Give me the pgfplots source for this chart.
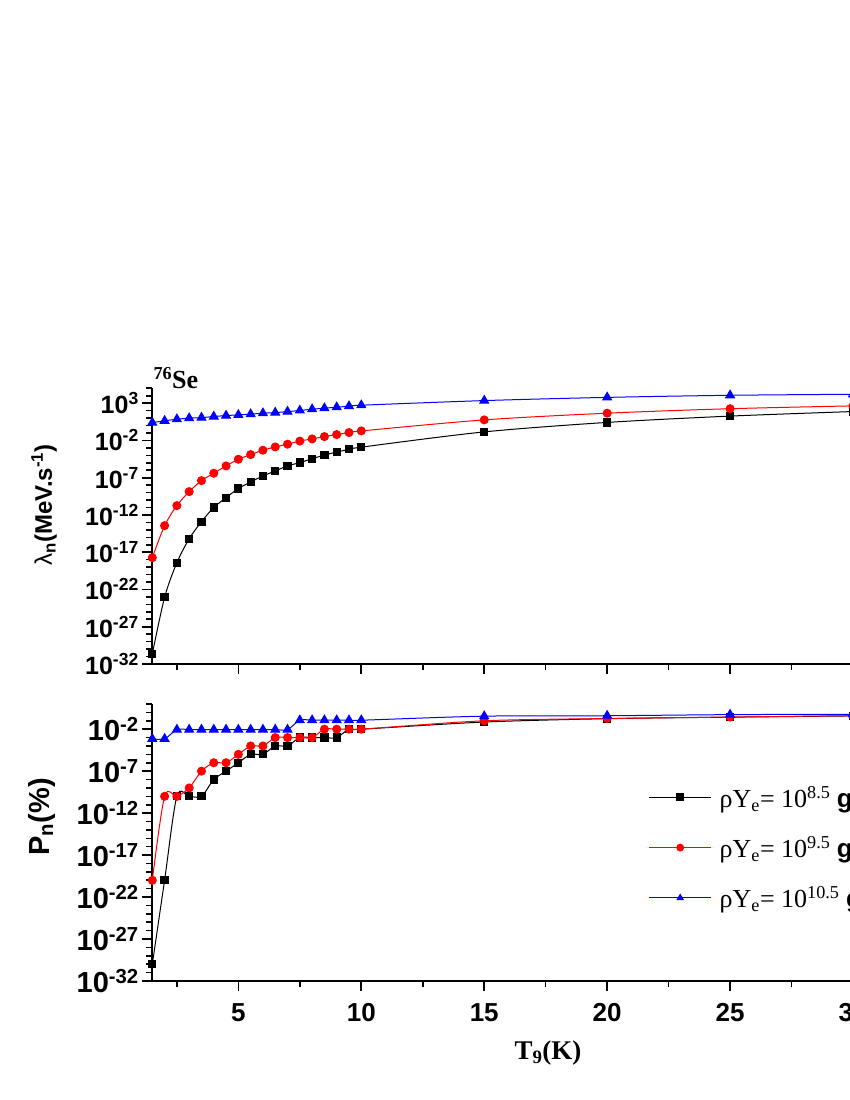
\documentclass[border=0pt]{standalone}
\usepackage{pgfplots}
\pgfplotsset{compat=1.18}
\usepackage{fontspec}
\setmainfont{Liberation Sans}
\newfontfamily\tnr{Liberation Serif}

\pgfplotsset{
  panel/.style={
    scale only axis, width=725.3pt,
    xmin=1.5, xmax=31,
    axis x line*=bottom, axis y line*=left,
    axis line style={line width=1.8pt},
    tick align=outside,
    major tick length=10pt, minor tick length=6pt,
    tick style={black, line width=1.6pt},
    xtick={5,10,...,30}, minor xtick={2.5,7.5,...,32.5},
    /pgf/number format/assume math mode=true,
    clip=false,
  },
  blk/.style={black, line width=1pt, smooth, mark=square*, mark size=3.6pt, mark options={solid}},
  rd/.style={red, line width=1pt, smooth, mark=*, mark size=4pt, mark options={solid}},
  bl/.style={blue, line width=1pt, smooth, mark=triangle*, mark size=5pt, mark options={solid}},
}

\begin{document}
\begin{tikzpicture}
\useasboundingbox (0pt,0pt) rectangle (850pt,1100pt);
\clip (0pt,0pt) rectangle (850pt,1100pt);

% upper panel: lambda_n
\begin{axis}[ymode=log, panel,
  at={(152.3pt,436pt)}, anchor=south west, height=275.7pt,
  ymin=1e-32, ymax=1e5,
  xticklabels={},
  ytick={1e-32,1e-27,1e-22,1e-17,1e-12,1e-7,1e-2,1e3},
  yticklabels={10\textsuperscript{-32},10\textsuperscript{-27},10\textsuperscript{-22},10\textsuperscript{-17},10\textsuperscript{-12},10\textsuperscript{-7},10\textsuperscript{-2},10\textsuperscript{3}},
  minor ytick={1e-31,1e-30,1e-29,1e-28,1e-26,1e-25,1e-24,1e-23,1e-21,1e-20,1e-19,1e-18,1e-16,1e-15,1e-14,1e-13,1e-11,1e-10,1e-9,1e-8,1e-6,1e-5,1e-4,1e-3,1e-1,1,10,100,1e4,1e5},
  yticklabel style={font=\bfseries\fontsize{25}{25}\selectfont},
]
\addplot[blk] coordinates {
 (1.5,2.19e-31) (2,8.9e-24) (2.5,3.98e-19) (3,6.3e-16) (3.5,1.26e-13) (4,1.0e-11)
 (4.5,2.1e-10) (5,3.5e-9) (5.5,2.7e-8) (6,1.7e-7) (6.5,8.1e-7) (7,3.8e-6)
 (7.5,1.07e-5) (8,3.5e-5) (8.5,1.1e-4) (9,2.8e-4) (9.5,6.3e-4) (10,1.26e-3)
 (15,0.141) (20,2.63) (25,18.6) (30,75.9)};
\addplot[rd] coordinates {
 (1.5,1.86e-18) (2,3.7e-14) (2.5,1.8e-11) (3,1.35e-9) (3.5,4.1e-8) (4,4.0e-7)
 (4.5,3.8e-6) (5,3.0e-5) (5.5,1.26e-4) (6,4.9e-4) (6.5,1.35e-3) (7,3.16e-3)
 (7.5,8.3e-3) (8,1.62e-2) (8.5,3.3e-2) (9,6.2e-2) (9.5,0.115) (10,0.19)
 (15,5.75) (20,45.7) (25,182) (30,437)};
\addplot[bl] coordinates {
 (1.5,2.5) (2,4.3) (2.5,7.1) (3,9.8) (3.5,11.7) (4,16.2)
 (4.5,21.9) (5,26.9) (5.5,33.9) (6,45.7) (6.5,55) (7,74)
 (7.5,105) (8,155) (8.5,214) (9,288) (9.5,398) (10,537)
 (15,2240) (20,6030) (25,11500) (30,15800)};
\end{axis}

% lower panel: P_n
\begin{axis}[ymode=log, panel,
  at={(152.3pt,119pt)}, anchor=south west, height=277pt,
  ymin=1e-32, ymax=1e1,
  xticklabel style={font=\bfseries\fontsize{26}{26}\selectfont, yshift=-9pt},
  ytick={1e-32,1e-27,1e-22,1e-17,1e-12,1e-7,1e-2},
  yticklabels={10\textsuperscript{-32},10\textsuperscript{-27},10\textsuperscript{-22},10\textsuperscript{-17},10\textsuperscript{-12},10\textsuperscript{-7},10\textsuperscript{-2}},
  minor ytick={1e-31,1e-30,1e-29,1e-28,1e-26,1e-25,1e-24,1e-23,1e-21,1e-20,1e-19,1e-18,1e-16,1e-15,1e-14,1e-13,1e-11,1e-10,1e-9,1e-8,1e-6,1e-5,1e-4,1e-3,1e-1,1,10},
  yticklabel style={font=\bfseries\fontsize{29}{29}\selectfont},
  legend style={draw=none, fill=none, at={(axis description cs:0.68,0.72)}, anchor=north west,
    font=\tnr\fontsize{26}{30}\selectfont, row sep=23pt,
    /tikz/every odd column/.append style={column sep=6pt}},
  legend cell align=left,
  legend image code/.code={\draw[mark repeat=2, mark phase=2, #1, mark size=3.4pt] plot coordinates {(0pt,0pt) (31pt,0pt) (62pt,0pt)};},
]
\addplot[blk] coordinates {
 (1.5,1e-30) (2,1e-20) (2.5,1e-10) (3,1e-10) (3.5,1e-10) (4,1e-8)
 (4.5,1e-7) (5,1e-6) (5.5,1e-5) (6,1e-5) (6.5,1e-4) (7,1e-4)
 (7.5,1e-3) (8,1e-3) (8.5,1e-3) (9,1e-3) (9.5,1e-2) (10,1e-2)
 (15,0.071) (20,0.178) (25,0.27) (30,0.38)};
\addlegendentry{ρY\textsubscript{e}= 10\textsuperscript{8.5} {\rmfamily\bfseries g/cm\textsuperscript{3}}}
\addplot[rd] coordinates {
 (1.5,1e-20) (2,1e-10) (2.5,1e-10) (3,1e-9) (3.5,1e-7) (4,1e-6)
 (4.5,1e-6) (5,1e-5) (5.5,1e-4) (6,1e-4) (6.5,1e-3) (7,1e-3)
 (7.5,1e-3) (8,1e-3) (8.5,1e-2) (9,1e-2) (9.5,1e-2) (10,1e-2)
 (15,0.1) (20,0.186) (25,0.28) (30,0.4)};
\addlegendentry{ρY\textsubscript{e}= 10\textsuperscript{9.5} {\rmfamily\bfseries g/cm\textsuperscript{3}}}
\addplot[bl] coordinates {
 (1.5,7.1e-4) (2,7.1e-4) (2.5,8.9e-3) (3,8.9e-3) (3.5,8.9e-3) (4,8.9e-3)
 (4.5,8.9e-3) (5,8.9e-3) (5.5,8.9e-3) (6,8.9e-3) (6.5,8.9e-3) (7,8.9e-3)
 (7.5,0.117) (8,0.117) (8.5,0.117) (9,0.117) (9.5,0.117) (10,0.117)
 (15,0.355) (20,0.4) (25,0.54) (30,0.6)};
\addlegendentry{ρY\textsubscript{e}= 10\textsuperscript{10.5} {\rmfamily\bfseries g/cm\textsuperscript{3}}}
\end{axis}

\node[rotate=90, font=\bfseries\fontsize{24}{24}\selectfont] at (44pt,595pt)
  {{\mdseries λ}\textsubscript{n}(MeV.s\textsuperscript{-1})};
\node[rotate=90, font=\bfseries\fontsize{29}{29}\selectfont] at (42pt,283pt)
  {P\textsubscript{n}(\%)};
\node[anchor=base, font=\tnr\bfseries\fontsize{27}{27}\selectfont] at (548pt,40pt)
  {T\textsubscript{9}(K)};
\node[anchor=base west, font=\tnr\bfseries\fontsize{26}{26}\selectfont] at (150pt,711pt)
  {\textsuperscript{76}Se};
\end{tikzpicture}
\end{document}
